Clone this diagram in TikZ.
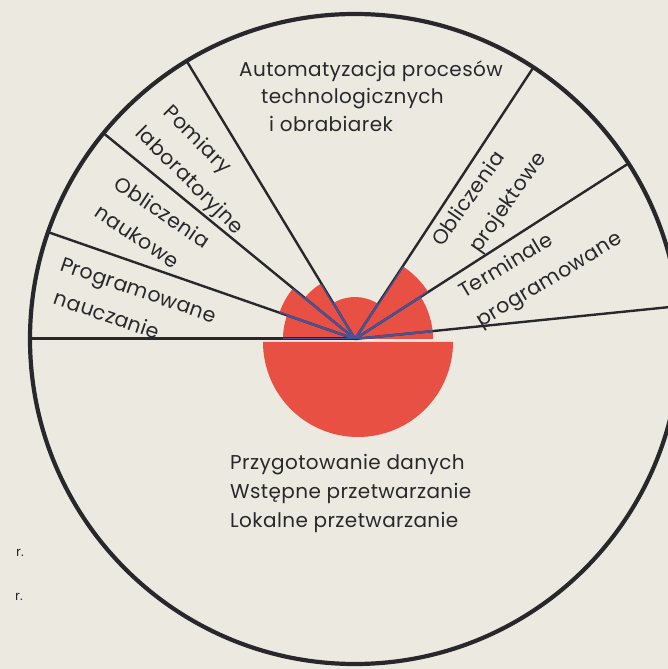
\documentclass[tikz,border=0pt]{standalone}
\usepackage{fontspec}
\setmainfont{Poppins}[LetterSpace=2]
\definecolor{paper}{RGB}{236,234,224}
\definecolor{redink}{RGB}{232,80,68}
\definecolor{ink}{RGB}{40,40,44}
\definecolor{blueink}{RGB}{72,82,150}
\tikzset{
	txt/.style={inner sep=0pt,font=\fontsize{20}{28}\selectfont,text=ink},
	rtxt/.style={txt,align=left,font=\fontsize{20.5}{34}\selectfont},
	spk/.style={ink,line width=2.4pt},
	bspk/.style={blueink,line width=2.4pt}
}

\begin{document}
\begin{tikzpicture}[x=1pt,y=1pt]
	\useasboundingbox (-355,-330) rectangle (313,339);
	\fill[paper] (-355,-330) rectangle (313,339);
	\coordinate (c) at (0,0);

	% red parts
	\fill[redink] (-92,-3) arc[start angle=180,end angle=360,radius=95] -- cycle;
	\foreach \a/\b/\r in {0/32.7/78,32.7/56.7/87,56.7/121.2/42,121.2/140.7/65,140.7/160.8/80,160.8/180/72}
		\fill[redink] (c) -- (\a:\r) arc[start angle=\a,end angle=\b,radius=\r] -- cycle;

	% spokes
	\foreach \a in {160.8,140.7,121.2,56.7,32.7,5.8}
		\draw[spk] (c) -- (\a:325);
	\coordinate (w) at (180:325);
	\draw[spk,line width=3pt] (c) -- (w);
	\begin{scope}
		\clip (-92,-3) arc[start angle=180,end angle=360,radius=95] -- cycle
			foreach \a/\b/\r in {0/32.7/78,32.7/56.7/87,56.7/121.2/42,121.2/140.7/65,140.7/160.8/80,160.8/180/72}
			{(c) -- (\a:\r) arc[start angle=\a,end angle=\b,radius=\r] -- cycle};
		\foreach \a in {180,160.8,140.7,121.2,56.7,32.7,5.8}
			\draw[bspk] (c) -- (\a:100);
	\end{scope}
	\draw[ink,line width=4.2pt] (c) circle[radius=325];

	% labels
	\node[txt,anchor=base west] (aut1) at (-116,262) {Automatyzacja procesów};
	\node[txt,anchor=base west] (aut2) at (-94,235) {technologicznych};
	\node[txt,anchor=base west] (aut3) at (-86,207) {i obrabiarek};

	\node[rtxt,rotate=-45] (pom) at (-154,170) {\hspace*{0.25em}Pomiary\\laboratoryjne};
	\node[rtxt,rotate=-34] (obn) at (-202,113) {Obliczenia\\naukowe};
	\node[rtxt,rotate=-19] (prg) at (-222,33) {Programowane\\\hspace*{0.25em}nauczanie};
	\node[rtxt,rotate=55] (obp) at (135,139) {Obliczenia\\\hspace*{0.8em}projektowe};
	\node[rtxt,rotate=31] (trm) at (186,73) {Terminale\\programowane};

	\node[txt,anchor=base west] (prz1) at (-125,-130) {Przygotowanie danych};
	\node[txt,anchor=base west] (prz2) at (-125,-159) {Wstępne przetwarzanie};
	\node[txt,anchor=base west] (prz3) at (-125,-188) {Lokalne przetwarzanie};

	\node[txt,font=\fontsize{13}{15}\selectfont] (r1) at (-335,-214) {r.};
	\node[txt,font=\fontsize{13}{15}\selectfont] (r2) at (-336,-258) {r.};
\end{tikzpicture}
\end{document}
